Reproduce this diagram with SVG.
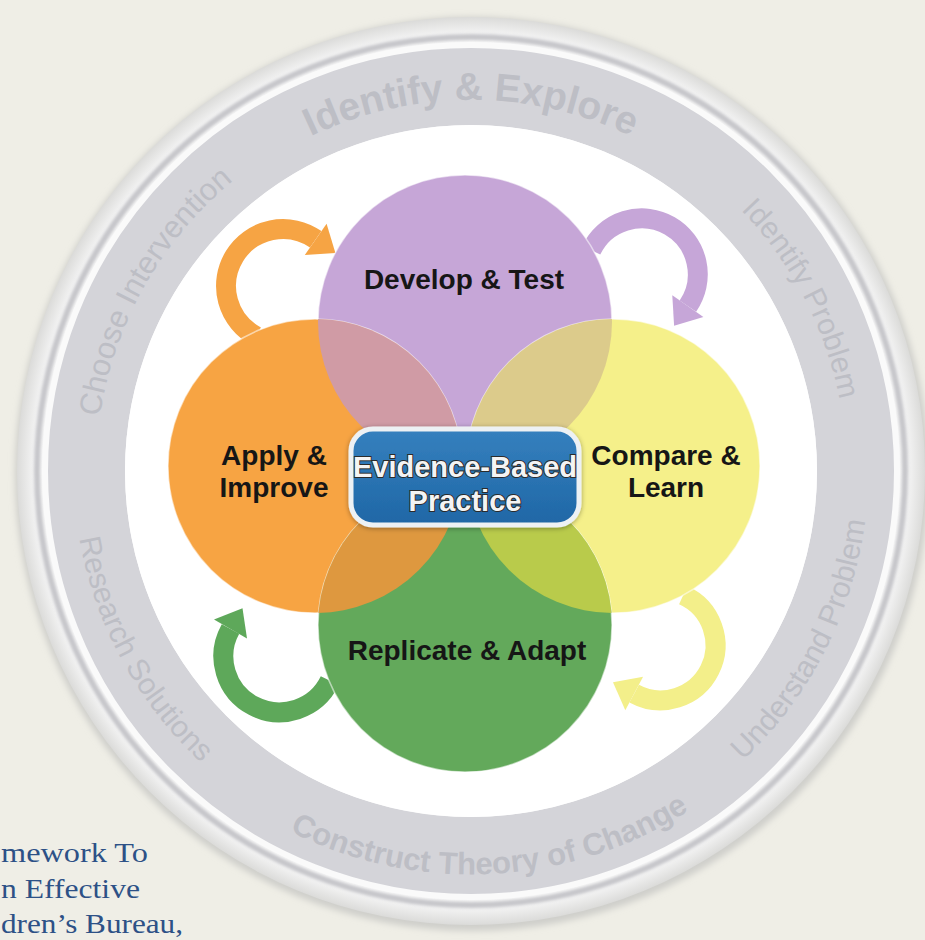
<svg xmlns="http://www.w3.org/2000/svg" width="925" height="940" viewBox="0 0 925 940">
<defs>
<style>
.band{font-family:"Liberation Sans",Arial,sans-serif;fill:#BDBEC5;}
.lbl{font-family:"Liberation Sans",Arial,sans-serif;font-weight:bold;font-size:28px;fill:#161616;text-anchor:middle;}
.ebp{font-family:"Liberation Sans",Arial,sans-serif;font-weight:bold;font-size:29px;fill:#F4F4F4;stroke:#2b2b2b;stroke-width:2;paint-order:stroke;text-anchor:middle;}
.cap{font-family:"Liberation Serif","Times New Roman",serif;font-size:27px;fill:#2D5186;}
.shaft{fill:none;stroke-width:20;stroke-linecap:butt;}
.node{stroke:#FFFFFF;stroke-opacity:0.55;stroke-width:1.5;}
</style>
<radialGradient id="rim" cx="471" cy="471" r="456" gradientUnits="userSpaceOnUse">
<stop offset="0.9" stop-color="#FFFFFF"/>
<stop offset="0.96" stop-color="#F3F3F3"/>
<stop offset="1" stop-color="#D8D8D6"/>
</radialGradient>
<linearGradient id="boxg" x1="0" y1="0" x2="0" y2="1">
<stop offset="0" stop-color="#3580BE"/>
<stop offset="1" stop-color="#1F67A6"/>
</linearGradient>
<filter id="blur3"><feGaussianBlur stdDeviation="3"/></filter>
<filter id="blur1"><feGaussianBlur stdDeviation="1.5"/></filter>
<filter id="sh" x="-20%" y="-20%" width="140%" height="140%"><feDropShadow dx="0" dy="1" stdDeviation="2.5" flood-color="#000" flood-opacity="0.35"/></filter>
<clipPath id="cP"><circle cx="465" cy="322" r="147"/></clipPath>
<clipPath id="cG"><circle cx="465" cy="625" r="147"/></clipPath>
<path id="tTop" d="M101.4,438.7 A371,371 0 0 1 840.6,438.7" fill="none"/>
<path id="tChoose" d="M258.6,780 A375,375 0 0 1 626.5,129.7" fill="none"/>
<path id="tIdent" d="M327.5,124.5 A375,375 0 0 1 672.5,787.3" fill="none"/>
<path id="tUnder" d="M322.3,839.1 A397,397 0 0 0 681.4,134.3" fill="none"/>
<path id="tConst" d="M71.9,527.1 A403,403 0 0 0 873.8,485.1" fill="none"/>
<path id="tResearch" d="M251.9,139.9 A397,397 0 0 0 629.3,835.1" fill="none"/>
</defs>

<rect width="925" height="940" fill="#EFEEE6"/>

<g id="outer-ring">
<circle cx="472" cy="474" r="457" fill="#CFCFCB" filter="url(#blur3)"/>
<circle cx="471" cy="471" r="454" fill="url(#rim)"/>
<circle cx="471" cy="471" r="434" fill="none" stroke="#C6C6CA" stroke-width="6" filter="url(#blur1)"/>
<circle cx="471" cy="471" r="429" fill="#FAFAFA"/>
<circle cx="471" cy="471" r="384.5" fill="none" stroke="#D4D4D9" stroke-width="77"/>
<circle cx="471" cy="471" r="346" fill="#FFFFFF"/>
<text class="band" font-size="39" font-weight="bold"><textPath href="#tTop" startOffset="50%" text-anchor="middle">Identify &amp; Explore</textPath></text>
<text class="band" font-size="31"><textPath href="#tChoose" startOffset="50%" text-anchor="middle">Choose Intervention</textPath></text>
<text class="band" font-size="30"><textPath href="#tIdent" startOffset="50%" text-anchor="middle">Identify Problem</textPath></text>
<text class="band" font-size="30"><textPath href="#tUnder" startOffset="50%" text-anchor="middle">Understand Problem</textPath></text>
<text class="band" font-size="31" font-weight="bold"><textPath href="#tConst" startOffset="50%" text-anchor="middle">Construct Theory of Change</textPath></text>
<text class="band" font-size="30"><textPath href="#tResearch" startOffset="50%" text-anchor="middle">Research Solutions</textPath></text>
</g>

<g id="connectors">
<path class="shaft" d="M256.2,336.3 A57,57 0 1 1 315.7,239.3" stroke="#F6A444"/>
<polygon points="326.6,223.7 304.8,254.9 335.4,253.1" fill="#F6A444"/>
<path class="shaft" d="M591.2,250.3 A56,56 0 1 1 687.9,306.1" stroke="#C6A6D8"/>
<polygon points="703.4,317 672.3,295.2 674.1,325.8" fill="#C6A6D8"/>
<path class="shaft" d="M683.2,595.2 A55,55 0 1 1 634.2,693.6" stroke="#F3EF8A"/>
<polygon points="625.3,710.3 643.1,676.8 613,682.3" fill="#F3EF8A"/>
<path class="shaft" d="M329.8,680.7 A56,56 0 1 1 230.5,629" stroke="#5EA85A"/>
<polygon points="214,619.5 247,638.5 242.5,608.2" fill="#5EA85A"/>
</g>

<g id="develop-test">
<circle class="node" cx="465" cy="322" r="147" fill="#C6A6D7"/>
</g>
<g id="apply-improve">
<circle class="node" cx="315" cy="466" r="147" fill="#F7A443"/>
</g>
<g id="compare-learn">
<circle class="node" cx="613" cy="466" r="147" fill="#F5F08A"/>
</g>
<g id="replicate-adapt">
<circle class="node" cx="465" cy="625" r="147" fill="#63A95B"/>
</g>
<g id="overlaps">
<circle cx="315" cy="466" r="147" fill="#D09BA5" clip-path="url(#cP)"/>
<circle cx="613" cy="466" r="147" fill="#DCCB8B" clip-path="url(#cP)"/>
<circle cx="315" cy="466" r="147" fill="#DE983F" clip-path="url(#cG)"/>
<circle cx="613" cy="466" r="147" fill="#B9CB4B" clip-path="url(#cG)"/>
</g>

<g id="labels">
<text class="lbl" x="464" y="289">Develop &amp; Test</text>
<text class="lbl" x="274" y="465">Apply &amp;</text>
<text class="lbl" x="274" y="497">Improve</text>
<text class="lbl" x="666" y="465">Compare &amp;</text>
<text class="lbl" x="666" y="497">Learn</text>
<text class="lbl" x="467" y="660">Replicate &amp; Adapt</text>
</g>

<g id="evidence-based-practice">
<rect x="351" y="429" width="228" height="96" rx="22" fill="url(#boxg)" stroke="#EDF1F4" stroke-width="5" filter="url(#sh)"/>
<text class="ebp" x="465" y="477">Evidence-Based</text>
<text class="ebp" x="465" y="511">Practice</text>
</g>

<g id="caption">
<text class="cap" x="1" y="862" textLength="147" lengthAdjust="spacingAndGlyphs">mework To</text>
<text class="cap" x="1" y="898" textLength="139" lengthAdjust="spacingAndGlyphs">n Effective</text>
<text class="cap" x="1" y="933" textLength="182" lengthAdjust="spacingAndGlyphs">dren’s Bureau,</text>
</g>
</svg>
